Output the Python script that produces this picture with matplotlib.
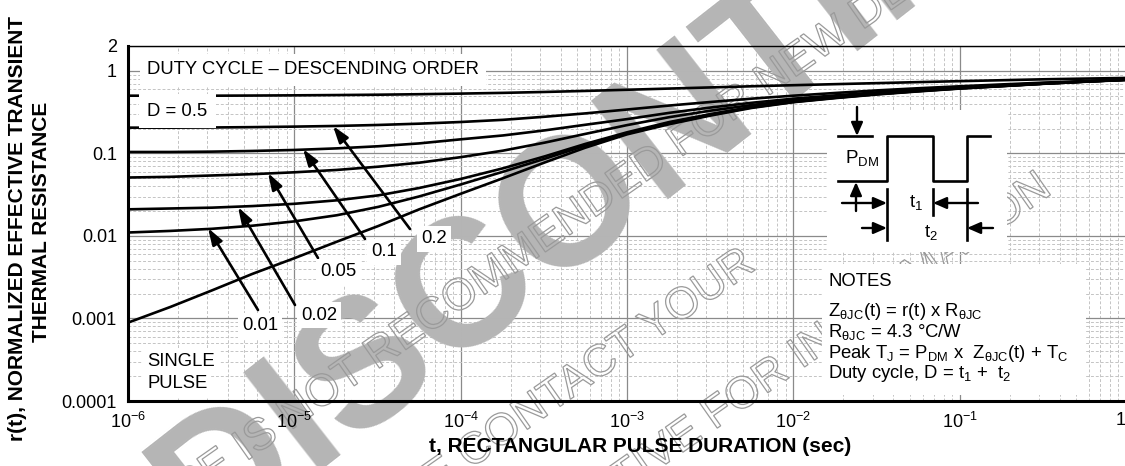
import numpy as np
import matplotlib
matplotlib.use("Agg")
import matplotlib.pyplot as plt
from matplotlib.patches import Rectangle, FancyArrowPatch
from matplotlib import patheffects

plt.rcParams['font.family'] = ['Liberation Sans', 'DejaVu Sans']
plt.rcParams['mathtext.fontset'] = 'custom'
plt.rcParams['mathtext.rm'] = 'Liberation Sans'
plt.rcParams['mathtext.it'] = 'Liberation Sans:italic'
plt.rcParams['mathtext.bf'] = 'Liberation Sans:bold'

# ---- data (quarter-decade steps) ----
t = [1e-6, 1.8e-6, 3.2e-6, 5.6e-6,
     1e-5, 1.8e-5, 3.2e-5, 5.6e-5,
     1e-4, 1.8e-4, 3.2e-4, 5.6e-4,
     1e-3, 1.8e-3, 3.2e-3, 5.6e-3,
     1e-2, 1.8e-2, 3.2e-2, 5.6e-2,
     1e-1, 1.8e-1, 3.2e-1, 5.6e-1, 1.0]
r_d050 = [0.500, 0.500, 0.500, 0.502, 0.505, 0.509, 0.514, 0.521, 0.530, 0.541, 0.555, 0.571,
          0.590, 0.610, 0.630, 0.650, 0.670, 0.690, 0.710, 0.730, 0.750, 0.770, 0.790, 0.805, 0.820]
r_d020 = [0.205, 0.205, 0.206, 0.208, 0.211, 0.215, 0.221, 0.229, 0.240, 0.255, 0.278, 0.305,
          0.340, 0.380, 0.420, 0.460, 0.500, 0.540, 0.580, 0.615, 0.650, 0.685, 0.720, 0.750, 0.785]
r_d010 = [0.104, 0.104, 0.105, 0.107, 0.110, 0.115, 0.122, 0.132, 0.148, 0.165, 0.190, 0.222,
          0.260, 0.310, 0.360, 0.410, 0.460, 0.505, 0.550, 0.590, 0.630, 0.670, 0.710, 0.745, 0.780]
r_d005 = [0.051, 0.052, 0.054, 0.056, 0.059, 0.063, 0.069, 0.077, 0.090, 0.108, 0.135, 0.172,
          0.220, 0.275, 0.330, 0.385, 0.440, 0.490, 0.535, 0.580, 0.620, 0.660, 0.700, 0.740, 0.780]
r_d002 = [0.0210, 0.0215, 0.0220, 0.0230, 0.0245, 0.0270, 0.0310, 0.0380, 0.0490, 0.066, 0.092, 0.130,
          0.180, 0.240, 0.300, 0.365, 0.425, 0.475, 0.525, 0.570, 0.615, 0.655, 0.700, 0.740, 0.780]
r_d001 = [0.0110, 0.0115, 0.0122, 0.0133, 0.0150, 0.0178, 0.0225, 0.0300, 0.0420, 0.060, 0.086, 0.124,
          0.174, 0.235, 0.295, 0.360, 0.420, 0.472, 0.522, 0.567, 0.613, 0.655, 0.700, 0.740, 0.780]
r_single = [0.00089, 0.00138, 0.00219, 0.00347, 0.00537, 0.00851, 0.0132, 0.0209, 0.0324, 0.0501,
            0.0776, 0.117, 0.170, 0.226, 0.288, 0.355, 0.417, 0.468, 0.518, 0.563, 0.610, 0.652,
            0.697, 0.737, 0.776]
curves = [r_d050, r_d020, r_d010, r_d005, r_d002, r_d001, r_single]

x_ticks = [1e-6, 1e-5, 1e-4, 1e-3, 1e-2, 1e-1, 1]
x_labels = [r'$10^{-6}$', r'$10^{-5}$', r'$10^{-4}$', r'$10^{-3}$', r'$10^{-2}$', r'$10^{-1}$', '1']
y_ticks = [2, 1, 0.1, 0.01, 0.001, 0.0001]
y_labels = ['2', '1', '0.1', '0.01', '0.001', '0.0001']

duty_labels = ['0.01', '0.02', '0.05', '0.1', '0.2']

W, H = 1125, 466
L, R, T, B = 128, 1126, 46, 401
fig = plt.figure(figsize=(W / 100, H / 100), dpi=100)
rect = [L / W, 1 - B / H, (R - L) / W, (B - T) / H]

# background axes: grid only (drawn below the watermark)
ax_bg = fig.add_axes(rect, zorder=0)
# main axes: curves, spines, tick labels (drawn above the watermark)
ax = fig.add_axes(rect, zorder=1)
ax.patch.set_visible(False)

for a in (ax_bg, ax):
    a.set_xscale('log')
    a.set_yscale('log')
    a.set_xlim(1e-6, 1)
    a.set_ylim(1e-4, 2)
    a.xaxis.set_minor_locator(matplotlib.ticker.LogLocator(base=10, subs=np.arange(2, 10)))
    a.yaxis.set_minor_locator(matplotlib.ticker.LogLocator(base=10, subs=np.arange(2, 10)))
    a.xaxis.set_minor_formatter(matplotlib.ticker.NullFormatter())
    a.yaxis.set_minor_formatter(matplotlib.ticker.NullFormatter())
    a.tick_params(which='both', length=0)

ax_bg.set_xticks(x_ticks)
ax_bg.set_yticks(y_ticks)
ax_bg.tick_params(labelbottom=False, labelleft=False)
ax_bg.grid(True, which='major', color='#8a8a8a', lw=0.9, ls='-')
ax_bg.grid(True, which='minor', color='#c4c4c4', lw=0.7, ls=(0, (3, 2)))
for sp in ax_bg.spines.values():
    sp.set_visible(False)

# pixel (from top-left of the picture) -> data coordinates, for placing annotations
def px2data(px, py):
    tx = 10 ** (-6 + 6 * (px - L) / (R - L))
    ry = 10 ** (-4 + np.log10(2e4) * (B - py) / (B - T))
    return (tx, ry)

def fx(x):
    return x / W

def fy(y):
    return 1 - y / H

for c in curves:
    ax.plot(t, c, color='black', lw=1.9, solid_capstyle='round', solid_joinstyle='round', zorder=3)

ax.set_xticks(x_ticks)
ax.set_xticklabels(x_labels, fontsize=13)
ax.get_xticklabels()[-1].set_horizontalalignment('right')
ax.set_yticks(y_ticks)
ax.set_yticklabels(y_labels, fontsize=13)
ax.tick_params(axis='x', pad=8)
ax.tick_params(axis='y', pad=8)

ax.spines['left'].set_linewidth(2.2)
ax.spines['bottom'].set_linewidth(2.2)
ax.spines['top'].set_linewidth(1.0)
ax.spines['right'].set_visible(False)

fig.text(fx(640), fy(447), 't, RECTANGULAR PULSE DURATION (sec)', fontsize=15, fontweight='bold',
         ha='center', va='center')
fig.text(fx(18), fy(441), 'r(t), NORMALIZED EFFECTIVE TRANSIENT', rotation=90, fontsize=15,
         fontweight='bold', ha='center', va='bottom')
fig.text(fx(42), fy(222), 'THERMAL RESISTANCE', rotation=90, fontsize=15,
         fontweight='bold', ha='center', va='center')

# ---- watermark (between grid and curves) ----
fig.text(fx(207), fy(550), 'DISCONTINUED', fontsize=130,
         fontweight='bold', color='#b5b5b5', rotation=38, rotation_mode='anchor',
         ha='left', va='baseline', zorder=0.5)
outline = [patheffects.PathPatchEffect(edgecolor='#9a9a9a', facecolor='none', linewidth=0.9)]
wm_lines = ['THIS DEVICE IS NOT RECOMMENDED FOR NEW DESIGN.',
            'PLEASE CONTACT YOUR',
            'ON SEMICONDUCTOR REPRESENTATIVE FOR INFORMATION']
wm_anchor = [(7, 629), (318, 576), (-18, 943)]
for s, (ax0, ay0) in zip(wm_lines, wm_anchor):
    fig.text(fx(ax0), fy(ay0), s, fontsize=32, color='none',
             rotation=35, rotation_mode='anchor', ha='left', va='baseline',
             zorder=0.6, path_effects=outline)

white = dict(facecolor='white', edgecolor='none', pad=3)
ax.text(*px2data(147, 70), 'DUTY CYCLE \u2013 DESCENDING ORDER', fontsize=13.3, va='center', ha='left',
        bbox=dict(facecolor='white', edgecolor='none', pad=5), zorder=4)
ax.text(*px2data(147, 111), 'D = 0.5', fontsize=13.3, va='center', ha='left',
        bbox=dict(facecolor='white', edgecolor='none', pad=6), zorder=4)
ax.text(*px2data(147, 361), 'SINGLE', fontsize=13.3, va='center', ha='left', bbox=white, zorder=4)
ax.text(*px2data(147, 384), 'PULSE', fontsize=13.3, va='center', ha='left', bbox=white, zorder=4)

label_px = [(260, 326), (319, 315), (338, 272), (384, 252), (434, 239)]
tail_px = [(258, 310), (295, 305), (318, 258), (365, 239), (410, 229)]
head_px = [(208, 228), (238, 207), (268, 173), (303, 149), (333, 126)]
for lab, lp, tp, hp in zip(duty_labels, label_px, tail_px, head_px):
    ax.annotate('', xy=px2data(*hp), xytext=px2data(*tp),
                arrowprops=dict(arrowstyle='-|>,head_length=1.0,head_width=0.33', color='black',
                                lw=1.9, shrinkA=0, shrinkB=0), zorder=5)
    ax.text(*px2data(*lp), lab, fontsize=13.3, ha='center', va='center', bbox=white, zorder=6)

# ---- inset: waveform diagram and notes ----
fig.patches.append(Rectangle((fx(827), fy(252)), (1007 - 827) / W, (252 - 110) / H,
                             transform=fig.transFigure, facecolor='white', edgecolor='none', zorder=5))
fig.patches.append(Rectangle((fx(822), fy(395)), (1086 - 822) / W, (395 - 264) / H,
                             transform=fig.transFigure, facecolor='white', edgecolor='none', zorder=5))

def fline(xs, ys, lw=1.9):
    fig.add_artist(plt.Line2D([fx(v) for v in xs], [fy(v) for v in ys], color='black', lw=lw,
                              transform=fig.transFigure, zorder=7))

def farrow(x0, y0, x1, y1):
    fig.add_artist(FancyArrowPatch((fx(x0), fy(y0)), (fx(x1), fy(y1)),
                   transform=fig.transFigure, arrowstyle='-|>,head_length=8,head_width=3.5',
                   color='black', lw=1.7, shrinkA=0, shrinkB=0, zorder=7))

fline([838, 887, 887, 933, 933, 967, 967, 990], [181, 181, 136, 136, 181, 181, 136, 136])
fline([838, 872], [136, 136])
farrow(857, 107, 857, 136)
farrow(856, 211, 856, 182)
fline([887, 887], [189, 240])
fline([933, 933], [189, 215])
fline([967, 967], [189, 240])
farrow(842, 203, 887, 203)
farrow(978, 203, 933, 203)
farrow(862, 228, 887, 228)
farrow(993, 228, 967, 228)
fig.text(fx(845), fy(158), r'P$_{\mathregular{DM}}$', fontsize=13.5, ha='left', va='center', zorder=8)
fig.text(fx(909), fy(203), r't$_{\mathregular{1}}$', fontsize=13.5, ha='left', va='center', zorder=8)
fig.text(fx(924), fy(233), r't$_{\mathregular{2}}$', fontsize=13.5, ha='left', va='center', zorder=8)

notes = ['NOTES',
         r'Z$_{\mathregular{\theta JC}}$(t) = r(t) x R$_{\mathregular{\theta JC}}$',
         r'R$_{\mathregular{\theta JC}}$ = 4.3 $\mathregular{\degree}$C/W',
         r'Peak T$_{\mathregular{J}}$ = P$_{\mathregular{DM}}$ x  Z$_{\mathregular{\theta JC}}$(t) + T$_{\mathregular{C}}$',
         r'Duty cycle, D = t$_{\mathregular{1}}$ +  t$_{\mathregular{2}}$']
notes_y = [282, 312, 332, 353, 373]
for s, yy in zip(notes, notes_y):
    fig.text(fx(828), fy(yy), s, fontsize=13.3, ha='left', va='center', zorder=8)

fig.savefig('out.png', dpi=100)
